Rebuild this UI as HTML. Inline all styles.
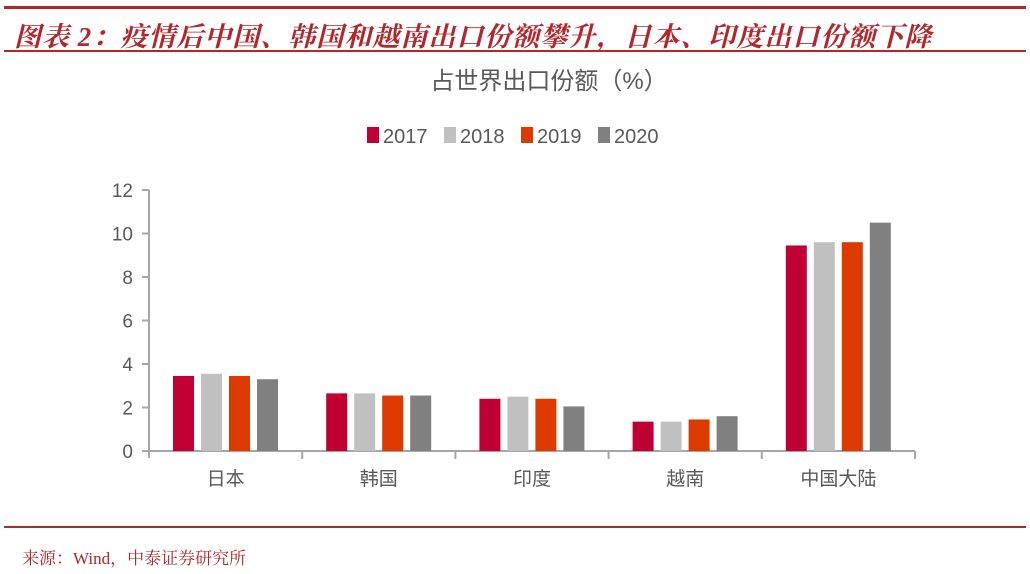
<!DOCTYPE html>
<html><head><meta charset="utf-8"><style>
body{margin:0;width:1030px;height:574px;background:#fff;overflow:hidden;font-family:"Liberation Sans","Noto Sans CJK SC",sans-serif;position:relative}
.line{position:absolute;left:4px;width:1022px;background:#b3262b}
#title{position:absolute;left:14px;top:15px;font-size:27px;font-style:italic;font-weight:bold;color:#b3262b;font-family:"Liberation Serif","Noto Serif CJK SC",serif;letter-spacing:1px;white-space:nowrap}
#src{position:absolute;left:22px;top:544px;font-size:17px;color:#b3262b;font-family:"Liberation Serif","Noto Serif CJK SC",serif}
svg{position:absolute;left:0;top:0}
</style></head><body>
<div class="line" style="top:6px;height:3px"></div>
<div id="title">图表 2：疫情后中国、韩国和越南出口份额攀升，日本、印度出口份额下降</div>
<div class="line" style="top:50px;height:2px"></div>
<div class="line" style="top:526px;height:2px"></div>
<div id="src">来源：Wind，中泰证券研究所</div>
<svg id="chart" width="1030" height="574"></svg>
<script>
const categories=["日本","韩国","印度","越南","中国大陆"];
const seriesNames=["2017","2018","2019","2020"];
const s2017=[3.45,2.65,2.4,1.35,9.45];
const s2018=[3.55,2.65,2.5,1.35,9.6];
const s2019=[3.45,2.55,2.4,1.45,9.6];
const s2020=[3.3,2.55,2.05,1.6,10.5];
const yTicks=[0,2,4,6,8,10,12];
const colors=["#c00033","#c0c0c0","#dd3a00","#808080"];
const series=[s2017,s2018,s2019,s2020];
const NS="http://www.w3.org/2000/svg",svg=document.getElementById('chart');
const x0=149,x1=915,y0=451,yTop=190,yMax=12;
const catW=(x1-x0)/categories.length;
const y=v=>y0-(v/yMax)*(y0-yTop);
function mk(t,a,p){const e=document.createElementNS(NS,t);for(const k in a)e.setAttribute(k,a[k]);(p||svg).appendChild(e);return e;}
let t=mk('text',{x:549,y:89,'font-size':24,fill:'#595959','text-anchor':'middle'});t.textContent="占世界出口份额（%）";


let lx=367;
seriesNames.forEach((n,i)=>{
 const g=mk('g',{});
 
 
 mk('rect',{x:lx,y:127,width:12,height:16,fill:colors[i]},g);
 const tt=mk('text',{x:lx+16,y:143,'font-size':20,fill:'#595959'},g);tt.textContent=n;
 lx+=77;
});
const ax=mk('line',{x1:x0,y1:y0,x2:x1,y2:y0,stroke:'#a6a6a6','stroke-width':2});


const ay=mk('line',{x1:x0,y1:y0+7,x2:x0,y2:yTop,stroke:'#a6a6a6','stroke-width':2});


yTicks.forEach(v=>{
 mk('line',{x1:x0-7,y1:y(v),x2:x0,y2:y(v),stroke:'#a6a6a6','stroke-width':2});
 const l=mk('text',{x:x0-16,y:y(v)+7,'font-size':19,fill:'#595959','text-anchor':'end'});l.textContent=v;
 
 
});
categories.forEach((c,ci)=>{
 const cx=x0+ci*catW;
 mk('line',{x1:cx+catW,y1:y0,x2:cx+catW,y2:y0+8,stroke:'#a6a6a6','stroke-width':2});
 const l=mk('text',{x:cx+catW/2,y:485,'font-size':19,fill:'#595959','text-anchor':'middle'});l.textContent=c;
 
 
 series.forEach((s,si)=>{
  const bx=cx+24+si*28;
  const r=mk('rect',{x:bx,y:y(s[ci]),width:21,height:y0-y(s[ci]),fill:colors[si]});
  
  
 });
});
</script>
</body></html>
